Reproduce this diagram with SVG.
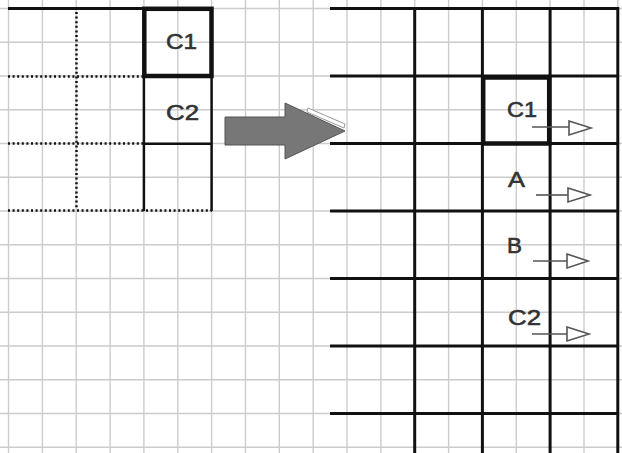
<svg xmlns="http://www.w3.org/2000/svg" width="622" height="453" viewBox="0 0 622 453">
<style>
.g{stroke:#cccccc;stroke-width:1.4;fill:none}
.b{stroke:#111;stroke-width:3;fill:none}
.bb{stroke:#111;stroke-width:4.5;fill:none}
.d{stroke:#111;stroke-width:2.5;stroke-dasharray:2 2.6;fill:none}
.t{font-family:"Liberation Sans",Arial,sans-serif;font-size:22px;fill:#333;stroke:#333;stroke-width:0.6}
.a{stroke:#555;stroke-width:1.6;fill:none}
.h{stroke:#555;stroke-width:1.6;fill:#fff}
</style>
<rect width="622" height="453" fill="#fff"/>
<g id="grid">
<path class="g" d="M8.5 0V453M42.4 0V453M76.2 0V453M110.1 0V453M143.9 0V453M177.8 0V453M211.6 0V453M245.5 0V453M279.3 0V453M313.2 0V453M347 0V453M380.9 0V453M414.7 0V453M448.6 0V453M482.4 0V453M516.3 0V453M550.1 0V453M584 0V453M617.8 0V453"/>
<path class="g" d="M0 8.5H622M0 42.3H622M0 76H622M0 109.8H622M0 143.5H622M0 177.3H622M0 211H622M0 244.8H622M0 278.5H622M0 312.3H622M0 346H622M0 379.8H622M0 413.5H622M0 447.3H622"/>
</g>
<g id="left-grid">
<path class="b" d="M8 8.5H212"/>
<path class="d" d="M8 76.5H143M8 143.5H143M8 210.5H212M76.5 12V209"/>
<path class="b" d="M143.9 76V211M211.6 76V211M143 143.8H212" style="stroke-width:2.5"/>
</g>
<g id="left-C1">
<rect class="bb" x="144.3" y="8.8" width="67.2" height="67.2"/>
<text class="t" x="166" y="49" textLength="31" lengthAdjust="spacingAndGlyphs">C1</text>
</g>
<g id="left-C2">
<text class="t" x="166" y="120" textLength="33" lengthAdjust="spacingAndGlyphs">C2</text>
</g>
<g id="big-arrow">
<polygon points="225,117 285,117 285,103 345,131 285,159 285,145 225,145" fill="#777" stroke="#555" stroke-width="1"/>
<polygon points="308,108 345,124 344,128 307,112" fill="#fff" stroke="#999" stroke-width="1"/>
</g>
<g id="right-grid">
<path class="b" d="M330 8.5H619M330 76H619M330 143.5H619M330 211H619M330 278.5H619M330 346H619M330 413.5H619"/>
<path class="b" d="M414.7 7V453M482.4 7V453M550.1 7V453M617.8 7V453"/>
</g>
<g id="right-C1">
<rect class="bb" x="483.2" y="77.5" width="66" height="66"/>
<text class="t" x="507" y="117" textLength="30" lengthAdjust="spacingAndGlyphs">C1</text>
</g>
<g id="right-A">
<text class="t" x="508" y="187" textLength="17" lengthAdjust="spacingAndGlyphs">A</text>
</g>
<g id="right-B">
<text class="t" x="507" y="253" textLength="15" lengthAdjust="spacingAndGlyphs">B</text>
</g>
<g id="right-C2">
<text class="t" x="508" y="325" textLength="33" lengthAdjust="spacingAndGlyphs">C2</text>
</g>
<g id="connectors">
<path class="a" d="M532 127H569"/><polygon class="h" points="569,121 591,128 569,135"/>
<path class="a" d="M536 195H568"/><polygon class="h" points="568,188 590,195 568,202"/>
<path class="a" d="M533 261H567"/><polygon class="h" points="567,254 588,261 567,268"/>
<path class="a" d="M532 334H567"/><polygon class="h" points="567,327 589,334 567,341"/>
</g>
</svg>
